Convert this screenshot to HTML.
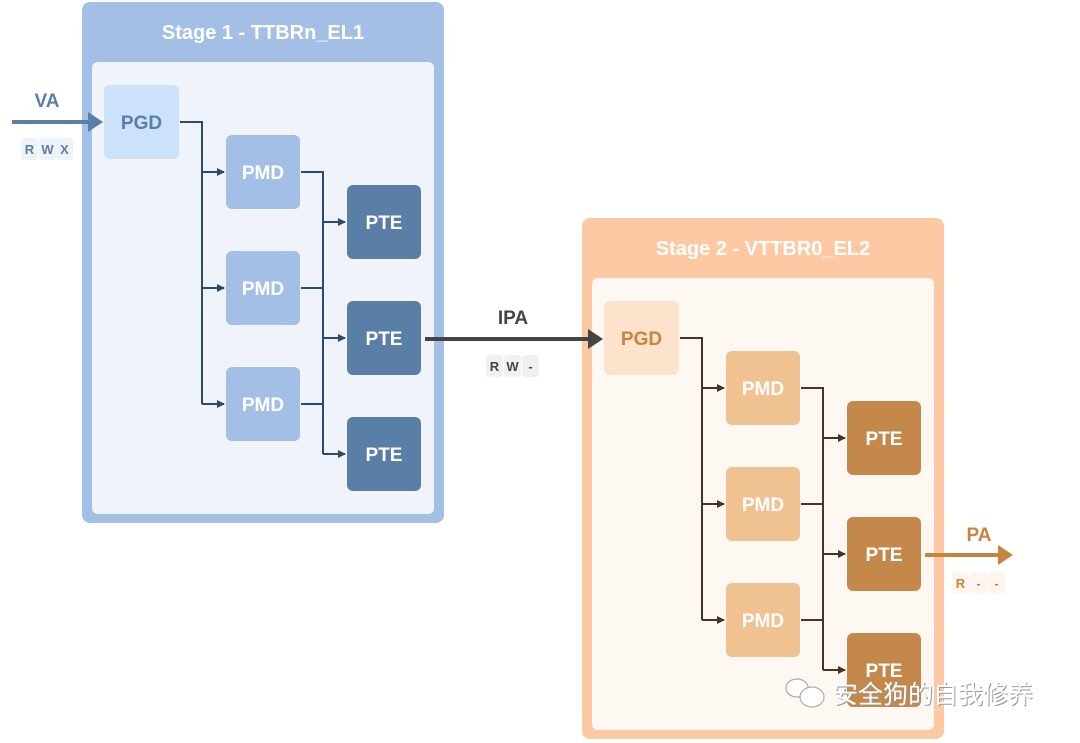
<!DOCTYPE html>
<html><head><meta charset="utf-8"><style>
html,body{margin:0;padding:0;background:#fff;width:1080px;height:743px;overflow:hidden}
svg{display:block}
text{font-family:"Liberation Sans","Noto Sans CJK SC",sans-serif;font-weight:bold}
</style></head><body>
<svg width="1080" height="743" viewBox="0 0 1080 743">
<defs>
<marker id="ab" markerWidth="8" markerHeight="8" refX="7" refY="4" orient="auto" markerUnits="userSpaceOnUse"><path d="M0,0 L8,4 L0,8 z" fill="#2a4a6e"/></marker>
<marker id="ao" markerWidth="8" markerHeight="8" refX="7" refY="4" orient="auto" markerUnits="userSpaceOnUse"><path d="M0,0 L8,4 L0,8 z" fill="#4a3420"/></marker>
</defs>
<!-- Stage 1 -->
<rect x="82" y="2" width="362" height="521" rx="8" fill="#a4bfe6"/>
<text x="263" y="39" text-anchor="middle" font-size="20" fill="#fff">Stage 1 - TTBRn_EL1</text>
<rect x="92" y="62" width="342" height="452" rx="6" fill="#f0f4fa"/>
<rect x="104" y="85" width="75" height="74" rx="6" fill="#cce2fb"/>
<text x="141.5" y="129" text-anchor="middle" font-size="19" fill="#5a7fa6">PGD</text>
<g fill="#a4bfe6"><rect x="226" y="135" width="74" height="74" rx="6"/><rect x="226" y="251" width="74" height="74" rx="6"/><rect x="226" y="367" width="74" height="74" rx="6"/></g>
<g fill="#5a7fa6"><rect x="347" y="185" width="74" height="74" rx="6"/><rect x="347" y="301" width="74" height="74" rx="6"/><rect x="347" y="417" width="74" height="74" rx="6"/></g>
<g font-size="19" fill="#fff" text-anchor="middle">
<text x="263" y="179">PMD</text><text x="263" y="295">PMD</text><text x="263" y="411">PMD</text>
<text x="384" y="229">PTE</text><text x="384" y="345">PTE</text><text x="384" y="461">PTE</text></g>
<g stroke="#2a4a6e" stroke-width="2" fill="none">
<path d="M180,122 H202 V404"/>
<path d="M202,172 H224" marker-end="url(#ab)"/><path d="M202,288 H224" marker-end="url(#ab)"/><path d="M202,404 H224" marker-end="url(#ab)"/>
<path d="M301,172 H323 V454"/><path d="M301,288 H323"/><path d="M301,404 H323"/>
<path d="M323,222 H345" marker-end="url(#ab)"/><path d="M323,338 H345" marker-end="url(#ab)"/><path d="M323,454 H345" marker-end="url(#ab)"/>
</g>
<!-- VA -->
<text x="47" y="107" text-anchor="middle" font-size="19" fill="#5a7fa6">VA</text>
<path d="M12,122 H90" stroke="#5a7fa6" stroke-width="4"/><path d="M88,112 L103,122 L88,132 z" fill="#5a7fa6"/>
<g fill="#eef3fa"><rect x="21" y="138" width="17" height="22" rx="3"/><rect x="39" y="138" width="17" height="22" rx="3"/><rect x="56" y="138" width="17" height="22" rx="3"/></g>
<g font-size="13" fill="#5a7fa6" text-anchor="middle"><text x="29.5" y="154">R</text><text x="47.5" y="154">W</text><text x="64.5" y="154">X</text></g>
<!-- Stage 2 -->
<rect x="582" y="218" width="362" height="521" rx="8" fill="#fdc9a3"/>
<text x="763" y="255" text-anchor="middle" font-size="20" fill="#fff">Stage 2 - VTTBR0_EL2</text>
<rect x="592" y="278" width="342" height="452" rx="6" fill="#fef8f2"/>
<rect x="604" y="301" width="75" height="74" rx="6" fill="#fde3cb"/>
<text x="641.5" y="345" text-anchor="middle" font-size="19" fill="#c8843e">PGD</text>
<g fill="#f1c291"><rect x="726" y="351" width="74" height="74" rx="6"/><rect x="726" y="467" width="74" height="74" rx="6"/><rect x="726" y="583" width="74" height="74" rx="6"/></g>
<g fill="#c4894a"><rect x="847" y="401" width="74" height="74" rx="6"/><rect x="847" y="517" width="74" height="74" rx="6"/><rect x="847" y="633" width="74" height="74" rx="6"/></g>
<g font-size="19" fill="#fff" text-anchor="middle">
<text x="763" y="395">PMD</text><text x="763" y="511">PMD</text><text x="763" y="627">PMD</text>
<text x="884" y="445">PTE</text><text x="884" y="561">PTE</text><text x="884" y="677">PTE</text></g>
<g stroke="#4a3420" stroke-width="2" fill="none">
<path d="M680,338 H702 V620"/>
<path d="M702,388 H724" marker-end="url(#ao)"/><path d="M702,504 H724" marker-end="url(#ao)"/><path d="M702,620 H724" marker-end="url(#ao)"/>
<path d="M801,388 H823 V670"/><path d="M801,504 H823"/><path d="M801,620 H823"/>
<path d="M823,438 H845" marker-end="url(#ao)"/><path d="M823,554 H845" marker-end="url(#ao)"/><path d="M823,670 H845" marker-end="url(#ao)"/>
</g>
<!-- IPA -->
<text x="513" y="324" text-anchor="middle" font-size="19" fill="#444">IPA</text>
<path d="M425,339 H590" stroke="#444" stroke-width="4"/><path d="M588,329 L603,339 L588,349 z" fill="#444"/>
<g fill="#f0f0f0"><rect x="486" y="355" width="17" height="22" rx="3"/><rect x="504" y="355" width="17" height="22" rx="3"/><rect x="522" y="355" width="17" height="22" rx="3"/></g>
<g font-size="13" fill="#444" text-anchor="middle"><text x="494.5" y="371">R</text><text x="512.5" y="371">W</text><text x="530.5" y="371">-</text></g>
<!-- PA -->
<text x="979" y="541" text-anchor="middle" font-size="19" fill="#c8843e">PA</text>
<path d="M925,555 H1000" stroke="#c8843e" stroke-width="4"/><path d="M998,545 L1013,555 L998,565 z" fill="#c8843e"/>
<g fill="#fef6ee"><rect x="952" y="572" width="17" height="22" rx="3"/><rect x="970" y="572" width="17" height="22" rx="3"/><rect x="988" y="572" width="17" height="22" rx="3"/></g>
<g font-size="13" fill="#c8843e" text-anchor="middle"><text x="960.5" y="588">R</text><text x="978.5" y="588">-</text><text x="996.5" y="588">-</text></g>
<!-- watermark -->
<g fill="#fff" stroke="#aaa" stroke-width="1.2">
<ellipse cx="797" cy="688" rx="11" ry="9"/><ellipse cx="812" cy="697" rx="12" ry="10"/>
</g>
<text x="834" y="704" font-size="25" fill="#999" style="font-family:'Noto Sans CJK SC',sans-serif;font-weight:normal">安全狗的自我修养</text>
<text x="833" y="703" font-size="25" fill="#fff" style="font-family:'Noto Sans CJK SC',sans-serif;font-weight:normal">安全狗的自我修养</text>
</svg>
</body></html>
